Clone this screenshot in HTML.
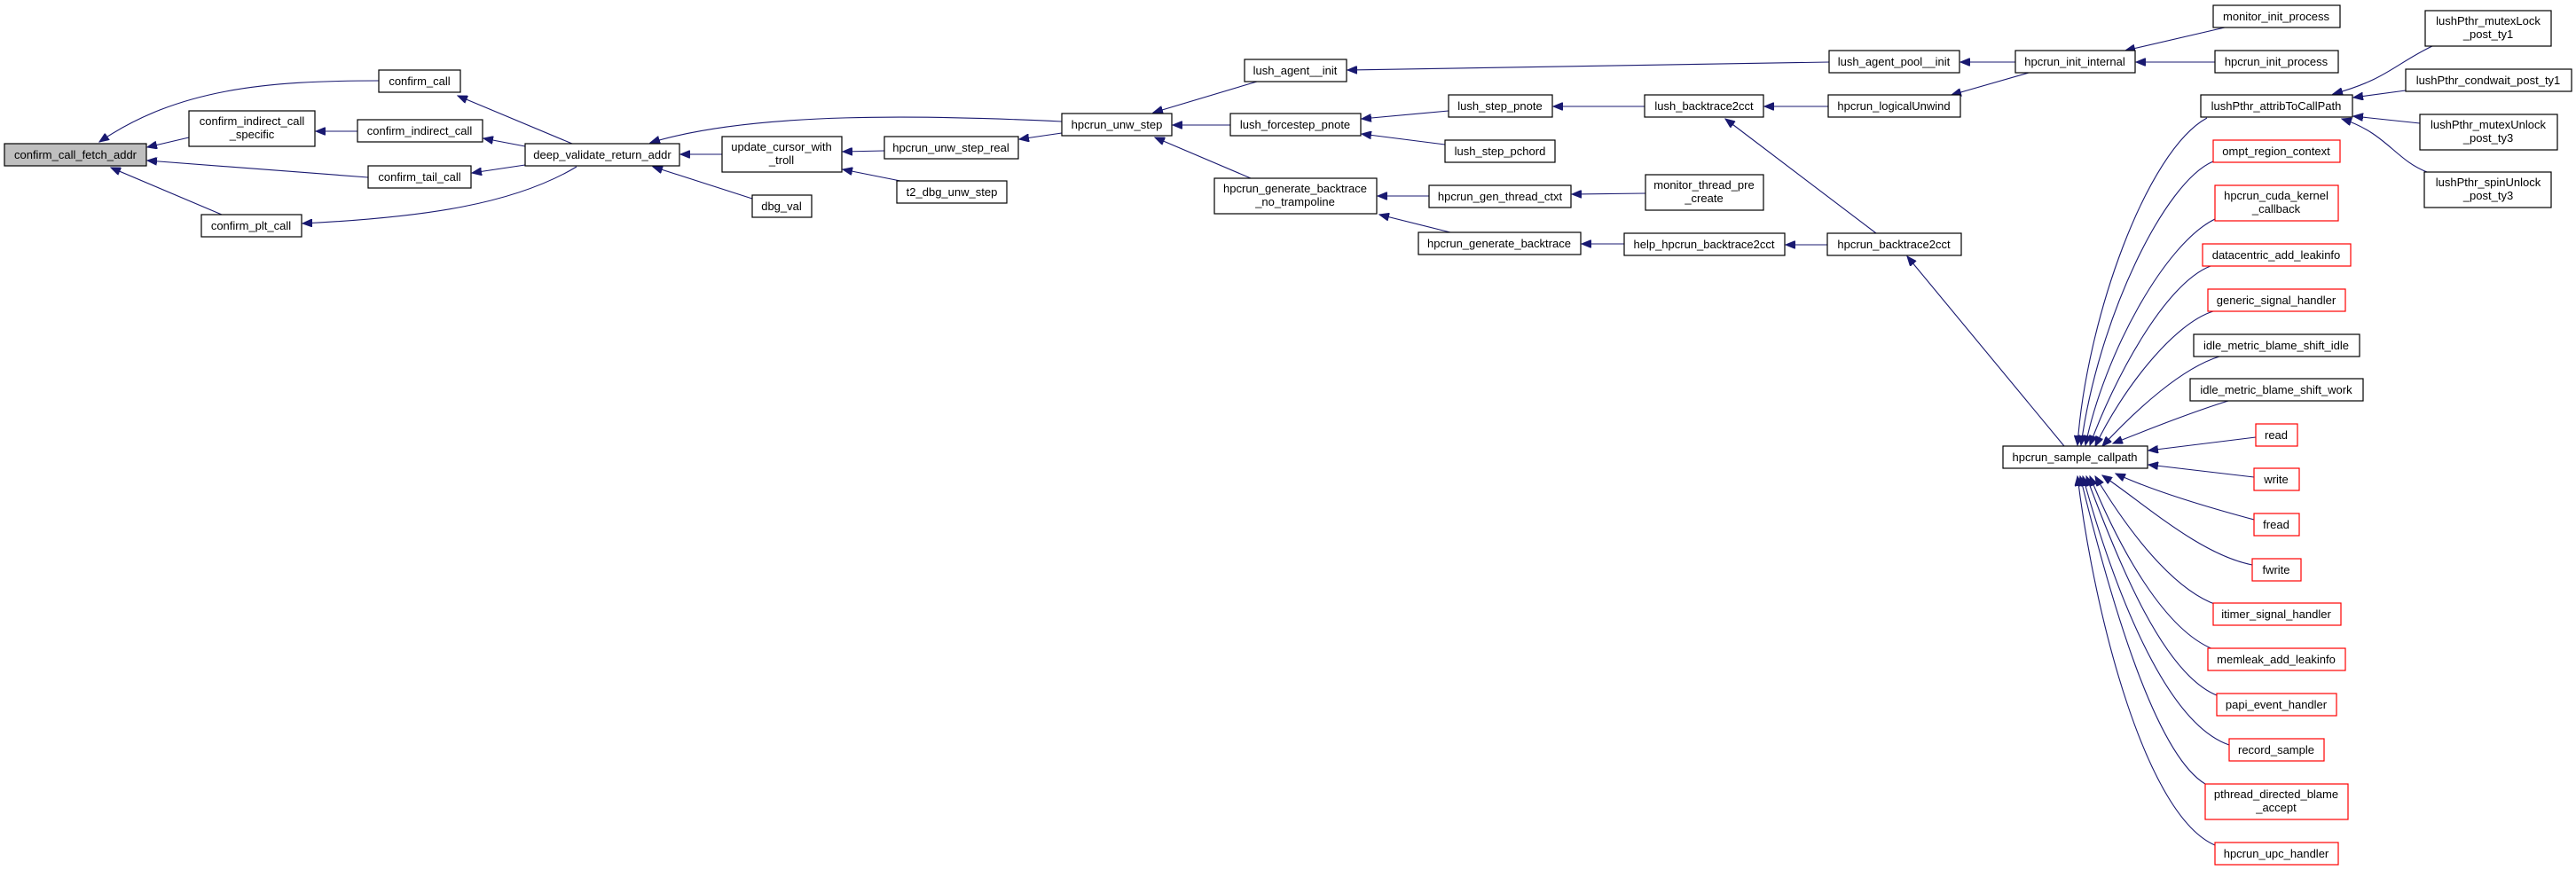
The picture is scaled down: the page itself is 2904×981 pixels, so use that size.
<!DOCTYPE html>
<html><head><meta charset="utf-8"><style>
html,body{margin:0;padding:0;background:#fff;}
svg{display:block;}
text{font-family:"Liberation Sans",Arial,sans-serif;font-size:13px;fill:#000;text-anchor:middle;}
.n{fill:#fff;stroke:#000;stroke-width:1.2;}
.g{fill:#bfbfbf;stroke:#000;stroke-width:1.2;}
.r{fill:#fff;stroke:#ff0000;stroke-width:1.2;}
.e{fill:none;stroke:#191970;stroke-width:1.1;marker-end:url(#a);}
</style></head><body>
<svg width="2904" height="981" viewBox="0 0 2904 981" xmlns="http://www.w3.org/2000/svg">
<defs><marker id="a" markerUnits="userSpaceOnUse" markerWidth="12" markerHeight="9" refX="11" refY="4.5" orient="auto"><path d="M0,0 L11,4.5 L0,9 z" fill="#191970" stroke="#191970"/></marker></defs>

<!-- edges -->
<path class="e" d="M427,91 C300,91 200,100 112,160"/>
<path class="e" d="M213,155 L166,166"/>
<path class="e" d="M415,200 L166,181"/>
<path class="e" d="M250,242 L125,189"/>
<path class="e" d="M403,148 L356,148"/>
<path class="e" d="M645,162 L516,108"/>
<path class="e" d="M592,165 L545,156"/>
<path class="e" d="M592,186 L532,195"/>
<path class="e" d="M650,188 C580,230 480,245 341,252"/>
<path class="e" d="M1197,137 C1050,130 850,125 733,161"/>
<path class="e" d="M814,174 L767,174"/>
<path class="e" d="M848,224 L736,188"/>
<path class="e" d="M997,170 L950,171"/>
<path class="e" d="M1015,204 L950,191"/>
<path class="e" d="M1197,150 L1149,157"/>
<path class="e" d="M1417,92 L1300,127"/>
<path class="e" d="M1387,141 L1322,141"/>
<path class="e" d="M1410,201 L1302,155"/>
<path class="e" d="M2062,70 L1519,79"/>
<path class="e" d="M1633,125 L1535,134"/>
<path class="e" d="M1629,163 L1535,151"/>
<path class="e" d="M1611,221 L1553,221"/>
<path class="e" d="M1635,262 L1555,242"/>
<path class="e" d="M1854,120 L1751,120"/>
<path class="e" d="M1855,218 L1772,219"/>
<path class="e" d="M1831,275 L1783,275"/>
<path class="e" d="M2061,120 L1989,120"/>
<path class="e" d="M2115,263 L1945,134"/>
<path class="e" d="M2060,276 L2013,276"/>
<path class="e" d="M2272,70 L2210,70"/>
<path class="e" d="M2287,82 L2200,107"/>
<path class="e" d="M2508,31 L2396,57"/>
<path class="e" d="M2497,70 L2408,70"/>
<path class="e" d="M2327,503 L2150,289"/>
<path class="e" d="M2742,52 C2700,72 2690,90 2630,106"/>
<path class="e" d="M2712,102 L2653,110"/>
<path class="e" d="M2728,139 L2653,131"/>
<path class="e" d="M2736,194 C2700,180 2690,150 2640,134"/>
<path class="e" d="M2488,133 C2420,170 2352,360 2342,502"/>
<path class="e" d="M2495,182 C2440,205 2365,360 2346,502"/>
<path class="e" d="M2497,247 C2440,275 2372,400 2351,502"/>
<path class="e" d="M2492,300 C2440,320 2382,430 2356,502"/>
<path class="e" d="M2495,351 C2450,365 2392,440 2362,503"/>
<path class="e" d="M2502,402 C2460,415 2410,460 2370,503"/>
<path class="e" d="M2512,452 C2470,465 2420,485 2382,500"/>
<path class="e" d="M2543,493 L2422,508"/>
<path class="e" d="M2541,538 L2422,524"/>
<path class="e" d="M2541,586 C2500,575 2430,555 2385,534"/>
<path class="e" d="M2539,637 C2480,625 2420,570 2370,536"/>
<path class="e" d="M2499,682 C2450,665 2400,600 2362,537"/>
<path class="e" d="M2495,732 C2440,710 2390,620 2356,537"/>
<path class="e" d="M2499,784 C2440,760 2390,640 2352,537"/>
<path class="e" d="M2513,840 C2440,815 2382,660 2348,537"/>
<path class="e" d="M2486,884 C2430,850 2380,680 2345,537"/>
<path class="e" d="M2497,953 C2420,920 2362,700 2342,537"/>

<!-- nodes -->
<rect class="g" x="5" y="162" width="160" height="25"/><text x="85" y="179">confirm_call_fetch_addr</text>
<rect class="n" x="427" y="79" width="92" height="25"/><text x="473" y="96">confirm_call</text>
<rect class="n" x="213" y="125" width="142" height="40"/><text x="284" y="141">confirm_indirect_call</text><text x="284" y="156">_specific</text>
<rect class="n" x="403" y="135" width="141" height="25"/><text x="473" y="152">confirm_indirect_call</text>
<rect class="n" x="415" y="187" width="116" height="25"/><text x="473" y="204">confirm_tail_call</text>
<rect class="n" x="227" y="242" width="113" height="25"/><text x="283" y="259">confirm_plt_call</text>
<rect class="n" x="592" y="162" width="174" height="25"/><text x="679" y="179">deep_validate_return_addr</text>
<rect class="n" x="814" y="154" width="135" height="40"/><text x="881" y="170">update_cursor_with</text><text x="881" y="185">_troll</text>
<rect class="n" x="848" y="220" width="67" height="25"/><text x="881" y="237">dbg_val</text>
<rect class="n" x="997" y="154" width="151" height="25"/><text x="1072" y="171">hpcrun_unw_step_real</text>
<rect class="n" x="1011" y="204" width="124" height="25"/><text x="1073" y="221">t2_dbg_unw_step</text>
<rect class="n" x="1197" y="128" width="124" height="25"/><text x="1259" y="145">hpcrun_unw_step</text>
<rect class="n" x="1403" y="67" width="115" height="25"/><text x="1460" y="84">lush_agent__init</text>
<rect class="n" x="1387" y="128" width="147" height="25"/><text x="1460" y="145">lush_forcestep_pnote</text>
<rect class="n" x="1369" y="201" width="183" height="40"/><text x="1460" y="217">hpcrun_generate_backtrace</text><text x="1460" y="232">_no_trampoline</text>
<rect class="n" x="2062" y="57" width="147" height="25"/><text x="2135" y="74">lush_agent_pool__init</text>
<rect class="n" x="1633" y="107" width="117" height="25"/><text x="1691" y="124">lush_step_pnote</text>
<rect class="n" x="1629" y="158" width="124" height="25"/><text x="1691" y="175">lush_step_pchord</text>
<rect class="n" x="1854" y="107" width="134" height="25"/><text x="1921" y="124">lush_backtrace2cct</text>
<rect class="n" x="2061" y="107" width="149" height="25"/><text x="2135" y="124">hpcrun_logicalUnwind</text>
<rect class="n" x="1611" y="209" width="160" height="25"/><text x="1691" y="226">hpcrun_gen_thread_ctxt</text>
<rect class="n" x="1855" y="197" width="133" height="40"/><text x="1921" y="213">monitor_thread_pre</text><text x="1921" y="228">_create</text>
<rect class="n" x="1599" y="262" width="183" height="25"/><text x="1690" y="279">hpcrun_generate_backtrace</text>
<rect class="n" x="1831" y="263" width="181" height="25"/><text x="1921" y="280">help_hpcrun_backtrace2cct</text>
<rect class="n" x="2060" y="263" width="151" height="25"/><text x="2135" y="280">hpcrun_backtrace2cct</text>
<rect class="n" x="2272" y="57" width="135" height="25"/><text x="2339" y="74">hpcrun_init_internal</text>
<rect class="n" x="2495" y="6" width="143" height="25"/><text x="2566" y="23">monitor_init_process</text>
<rect class="n" x="2497" y="57" width="139" height="25"/><text x="2566" y="74">hpcrun_init_process</text>
<rect class="n" x="2481" y="107" width="171" height="25"/><text x="2566" y="124">lushPthr_attribToCallPath</text>
<rect class="n" x="2734" y="12" width="142" height="40"/><text x="2805" y="28">lushPthr_mutexLock</text><text x="2805" y="43">_post_ty1</text>
<rect class="n" x="2712" y="78" width="187" height="25"/><text x="2805" y="95">lushPthr_condwait_post_ty1</text>
<rect class="n" x="2728" y="129" width="155" height="40"/><text x="2805" y="145">lushPthr_mutexUnlock</text><text x="2805" y="160">_post_ty3</text>
<rect class="n" x="2733" y="194" width="143" height="40"/><text x="2805" y="210">lushPthr_spinUnlock</text><text x="2805" y="225">_post_ty3</text>
<rect class="r" x="2495" y="158" width="143" height="25"/><text x="2566" y="175">ompt_region_context</text>
<rect class="r" x="2497" y="209" width="139" height="40"/><text x="2566" y="225">hpcrun_cuda_kernel</text><text x="2566" y="240">_callback</text>
<rect class="r" x="2483" y="275" width="167" height="25"/><text x="2566" y="292">datacentric_add_leakinfo</text>
<rect class="r" x="2489" y="326" width="155" height="25"/><text x="2566" y="343">generic_signal_handler</text>
<rect class="n" x="2473" y="377" width="187" height="25"/><text x="2566" y="394">idle_metric_blame_shift_idle</text>
<rect class="n" x="2469" y="427" width="195" height="25"/><text x="2566" y="444">idle_metric_blame_shift_work</text>
<rect class="r" x="2543" y="478" width="47" height="25"/><text x="2566" y="495">read</text>
<rect class="r" x="2541" y="528" width="51" height="25"/><text x="2566" y="545">write</text>
<rect class="r" x="2541" y="579" width="51" height="25"/><text x="2566" y="596">fread</text>
<rect class="r" x="2539" y="630" width="55" height="25"/><text x="2566" y="647">fwrite</text>
<rect class="r" x="2495" y="680" width="144" height="25"/><text x="2566" y="697">itimer_signal_handler</text>
<rect class="r" x="2489" y="731" width="155" height="25"/><text x="2566" y="748">memleak_add_leakinfo</text>
<rect class="r" x="2499" y="782" width="135" height="25"/><text x="2566" y="799">papi_event_handler</text>
<rect class="r" x="2513" y="833" width="107" height="25"/><text x="2566" y="850">record_sample</text>
<rect class="r" x="2486" y="884" width="161" height="40"/><text x="2566" y="900">pthread_directed_blame</text><text x="2566" y="915">_accept</text>
<rect class="r" x="2497" y="950" width="139" height="25"/><text x="2566" y="967">hpcrun_upc_handler</text>
<rect class="n" x="2258" y="503" width="163" height="25"/><text x="2339" y="520">hpcrun_sample_callpath</text>
</svg>
</body></html>
